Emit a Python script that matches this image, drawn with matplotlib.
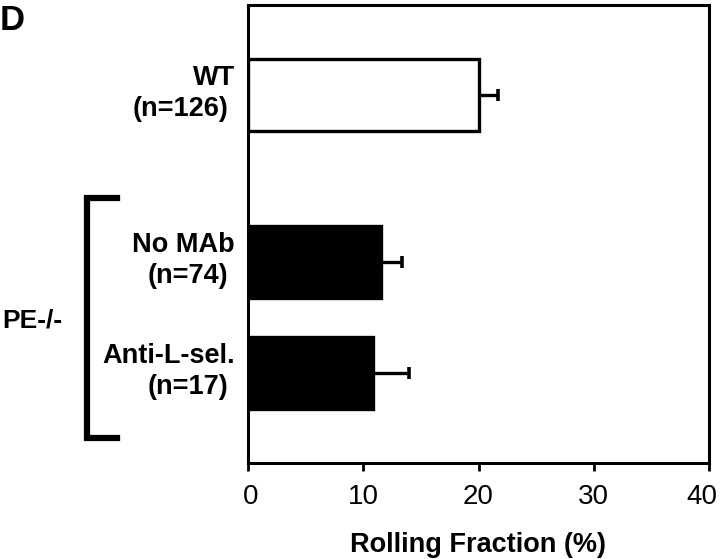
import matplotlib
matplotlib.use("Agg")
import matplotlib.pyplot as plt
from matplotlib.lines import Line2D
from matplotlib.transforms import ScaledTranslation

plt.rcParams.update({"font.family": ["Liberation Sans", "DejaVu Sans"]})

# ---- data ------------------------------------------------------------------
names = ["WT", "No MAb", "Anti-L-sel."]
counts = ["(n=126)", "(n=74)", "(n=17)"]
values = [20.0, 11.5, 10.85]
errors = [1.7, 1.9, 3.15]
fills = ["white", "black", "black"]
ypos = [2.5, 1.0, 0.0]
xticks = [0, 10, 20, 30, 40]

W, H = 720, 559
fig = plt.figure(figsize=(W / 100, H / 100), dpi=100)
ax = fig.add_axes([248 / W, 1 - 463 / H, (709 - 248) / W, (463 - 5) / H])

ax.barh(ypos, values, height=0.65, color=fills, edgecolor="black", linewidth=2.4, zorder=2)
ax.errorbar(values, ypos, xerr=[[0] * len(errors), errors], fmt="none", ecolor="black",
            elinewidth=2.4, capsize=4, capthick=2.6, zorder=1)

ax.set_xlim(0, 40)
ax.set_ylim(-0.806, 3.31)
ax.set_xticks(xticks)
ax.set_xticklabels([str(t) for t in xticks], fontsize=20)
ax.set_yticks([])
ax.tick_params(axis="x", direction="out", length=6, width=2, pad=9)
# nudge the end labels inward a little, like the original
labs = ax.get_xticklabels()
labs[0].set_transform(labs[0].get_transform() + ScaledTranslation(3 / 100, 0, fig.dpi_scale_trans))
labs[-1].set_transform(labs[-1].get_transform() + ScaledTranslation(-7 / 100, 0, fig.dpi_scale_trans))
for s in ax.spines.values():
    s.set_linewidth(2.2)
ax.set_xlabel("Rolling Fraction (%)", fontsize=19.5, fontweight="bold", labelpad=16)

# group labels to the left of the bars
for nm, cnt, y in zip(names, counts, ypos):
    ax.annotate(nm, xy=(235 / W, y), xycoords=("figure fraction", "data"),
                xytext=(0, 12.5), textcoords="offset points", ha="right", va="center",
                fontsize=19.5, fontweight="bold")
    ax.annotate(cnt, xy=(228 / W, y), xycoords=("figure fraction", "data"),
                xytext=(0, -10), textcoords="offset points", ha="right", va="center",
                fontsize=19.5, fontweight="bold")

# PE-/- bracket
bx = [117 / W, 87 / W, 87 / W, 117 / W]
by = [1 - 198 / H, 1 - 198 / H, 1 - 438 / H, 1 - 438 / H]
fig.add_artist(Line2D(bx, by, color="black", linewidth=4.5, solid_joinstyle="miter"))
fig.text(2 / W, 1 - 321 / H, "PE-/-", fontsize=19, fontweight="bold", ha="left", va="center")

fig.text(0 / W, 1 - 20 / H, "D", fontsize=25, fontweight="bold", ha="left", va="center")

fig.savefig("out.png", dpi=100)
